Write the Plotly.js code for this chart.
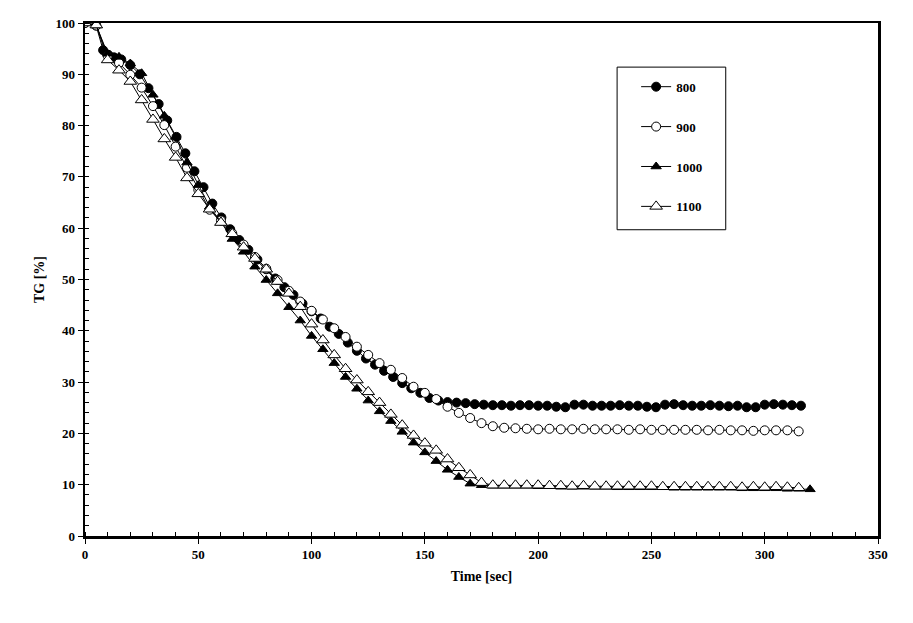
<!DOCTYPE html>
<html>
<head>
<meta charset="utf-8">
<script src="https://cdn.plot.ly/plotly-3.0.1.min.js"></script>
<style>html,body{margin:0;padding:0;background:#fff;}#chart{width:913px;height:623px;}</style>
</head>
<body>
<div id="chart"></div>
<script>
// ---- data ----
const seriesNames = ["800", "900", "1000", "1100"];

const t800 = [0, 4.9, 8, 10.3, 12.8, 16, 20, 24.2, 28, 32.5, 36.3, 40.4, 44.3, 48.3, 52.3, 56.2, 60.2, 64.1, 68.1, 72.1,
  76.1, 80, 84, 88, 92, 96, 100, 104, 108, 112, 116, 120, 124, 128, 132, 136, 140, 144, 148, 152,
  156, 160, 164, 168, 172, 176, 180, 184, 188, 192, 196, 200, 204, 208, 212, 216, 220, 224, 228, 232,
  236, 240, 244, 248, 252, 256, 260, 264, 268, 272, 276, 280, 284, 288, 292, 296, 300, 304, 308, 312, 316];
const tg800 = [100, 99.5, 94.7, 93.8, 93.3, 92.9, 91.8, 90, 87.3, 84.2, 81, 77.8, 74.6, 71.1, 68, 64.8, 62.1, 59.8, 57.7, 55.8,
  53.9, 52, 50.2, 48.5, 47, 45.3, 43.8, 42.4, 40.8, 39.4, 37.7, 36.1, 34.6, 33.4, 32.2, 31, 29.8, 28.8, 27.9, 26.9,
  26.4, 26.1, 26, 25.9, 25.7, 25.6, 25.5, 25.5, 25.4, 25.5, 25.5, 25.4, 25.4, 25.2, 25.1, 25.6, 25.6, 25.4, 25.4, 25.4,
  25.5, 25.4, 25.4, 25.2, 25.1, 25.6, 25.7, 25.5, 25.4, 25.4, 25.5, 25.4, 25.3, 25.4, 25.1, 25.1, 25.6, 25.7, 25.6, 25.5, 25.4];

const t900 = [0, 5, 10, 15, 20, 25, 30, 35, 40, 45, 50, 55, 60, 65, 70, 75, 80, 85, 90, 95,
  100, 105, 110, 115, 120, 125, 130, 135, 140, 145, 150, 155, 160, 165, 170, 175, 180, 185, 190, 195,
  200, 205, 210, 215, 220, 225, 230, 235, 240, 245, 250, 255, 260, 265, 270, 275, 280, 285, 290, 295,
  300, 305, 310, 315];
const tg900 = [100, 99.5, 93.6, 92.2, 89.9, 87.4, 83.8, 80.1, 75.9, 71.8, 67.5, 63.6, 61.5, 59, 56.8, 54.4, 52.1, 49.9, 47.8, 45.7,
  43.9, 42.2, 40.5, 38.8, 36.9, 35.3, 33.7, 32.4, 30.8, 29.1, 27.9, 26.7, 25.2, 24, 23, 22, 21.4, 21.1, 21, 20.9,
  20.8, 20.9, 20.8, 20.8, 20.9, 20.8, 20.8, 20.8, 20.7, 20.8, 20.7, 20.7, 20.7, 20.7, 20.7, 20.6, 20.7, 20.6, 20.6, 20.5,
  20.6, 20.6, 20.6, 20.4];

const t1000 = [0, 5, 10, 15, 20, 25, 30, 35, 40, 45, 50, 55, 60, 65, 70, 75, 80, 85, 90, 95,
  100, 105, 110, 115, 120, 125, 130, 135, 140, 145, 150, 155, 160, 165, 170, 175, 180, 185, 190, 195,
  200, 205, 210, 215, 220, 225, 230, 235, 240, 245, 250, 255, 260, 265, 270, 275, 280, 285, 290, 295,
  300, 305, 310, 315, 320];
const tg1000 = [100, 99.5, 94, 93.4, 92.1, 90.2, 86, 81.9, 77.8, 72.8, 68.4, 64.2, 61.2, 57.9, 55.4, 52.5, 49.9, 47.3, 44.6, 42,
  39, 36.4, 33.7, 31, 28.7, 26.4, 24.3, 22.4, 20.3, 18.2, 16.3, 14.6, 12.9, 11.5, 10.2, 9.9, 9.8, 9.8, 9.8, 9.8,
  9.7, 9.7, 9.6, 9.6, 9.6, 9.6, 9.6, 9.5, 9.5, 9.5, 9.5, 9.5, 9.4, 9.4, 9.4, 9.4, 9.4, 9.4, 9.3, 9.3,
  9.3, 9.3, 9.2, 9.2, 9.1];

const t1100 = [0, 5, 10, 15, 20, 25, 30, 35, 40, 45, 50, 55, 60, 65, 70, 75, 80, 85, 90, 95,
  100, 105, 110, 115, 120, 125, 130, 135, 140, 145, 150, 155, 160, 165, 170, 175, 180, 185, 190, 195,
  200, 205, 210, 215, 220, 225, 230, 235, 240, 245, 250, 255, 260, 265, 270, 275, 280, 285, 290, 295,
  300, 305, 310, 315];
const tg1100 = [100, 99.6, 92.8, 90.8, 88.6, 85, 81.2, 77.4, 73.8, 69.8, 66.7, 63.7, 61.1, 58.9, 56.3, 54.1, 52, 49.6, 47.3, 44.7,
  41.3, 38.2, 35.3, 32.6, 30.4, 28.1, 26, 23.7, 21.6, 19.6, 18.1, 16.7, 15, 13.3, 11.9, 10.4, 9.9, 9.9, 9.9, 9.9,
  9.9, 9.8, 9.8, 9.7, 9.8, 9.7, 9.7, 9.7, 9.7, 9.7, 9.7, 9.6, 9.6, 9.6, 9.6, 9.6, 9.6, 9.6, 9.5, 9.6,
  9.5, 9.6, 9.5, 9.4];

const xTitle = "Time [sec]";
const yTitle = "TG [%]";

// ---- styling ----
const FONT = "'Liberation Serif', 'Times New Roman', serif";
function trace(x, y, name, symbol, size, fill) {
  return {
    x: x, y: y, name: name, type: "scatter", mode: "lines+markers",
    legendgroup: name,
    line: {color: "#000", width: 1},
    marker: {symbol: symbol, size: size, color: fill, line: {color: "#000", width: 1}}
  };
}
const data = [
  trace(t800, tg800, seriesNames[0], "circle", 9, "#000"),
  trace(t900, tg900, seriesNames[1], "circle", 9, "#fff"),
  trace(t1000, tg1000, seriesNames[2], "triangle-up", 9, "#000"),
  trace(t1100, tg1100, seriesNames[3], "triangle-up", 11, "#fff")
];

const layout = {
  width: 913, height: 623,
  margin: {l: 85, r: 35, t: 23, b: 87},
  paper_bgcolor: "#fff", plot_bgcolor: "#fff",
  font: {family: FONT, color: "#000", size: 13},
  showlegend: true,
  legend: {
    x: 0.695, y: 0.905, xanchor: "left", yanchor: "top",
    bgcolor: "rgba(0,0,0,0)", borderwidth: 0,
    font: {family: FONT, size: 13, weight: "bold", color: "#000"},
    tracegroupgap: 20, itemwidth: 30
  },
  xaxis: {
    range: [0, 350], dtick: 50, tick0: 0,
    showgrid: false, zeroline: false,
    showline: true, linecolor: "#000", linewidth: 2.5, mirror: true,
    ticks: "outside", ticklen: 5, tickwidth: 1, tickcolor: "#000",
    minor: {dtick: 10, ticks: "inside", ticklen: 4, tickwidth: 1, tickcolor: "#000", showgrid: false},
    tickfont: {family: FONT, size: 13, weight: "bold"},
    title: {text: xTitle, font: {family: FONT, size: 14, weight: "bold"}, standoff: 10}
  },
  yaxis: {
    range: [0, 100], dtick: 10, tick0: 0,
    showgrid: false, zeroline: false,
    showline: true, linecolor: "#000", linewidth: 2.5, mirror: true,
    ticks: "outside", ticklen: 5, tickwidth: 1, tickcolor: "#000",
    minor: {dtick: 2, ticks: "inside", ticklen: 4, tickwidth: 1, tickcolor: "#000", showgrid: false},
    tickfont: {family: FONT, size: 13, weight: "bold"},
    title: {text: yTitle, font: {family: FONT, size: 14, weight: "bold"}, standoff: 8}
  },
  shapes: [{
    type: "rect", xref: "paper", yref: "paper",
    x0: 0.671, x1: 0.808, y0: 0.597, y1: 0.914,
    line: {color: "#000", width: 1}, fillcolor: "rgba(0,0,0,0)", layer: "below"
  }]
};

Plotly.newPlot("chart", data, layout, {displayModeBar: false, staticPlot: true});
</script>
</body>
</html>
